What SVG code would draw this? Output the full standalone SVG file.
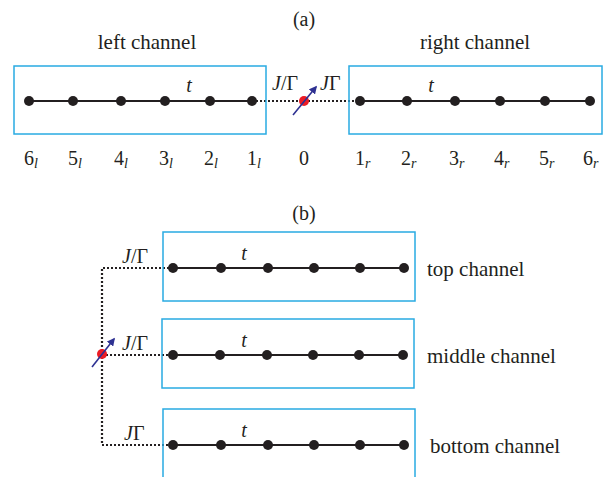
<svg xmlns="http://www.w3.org/2000/svg" width="608" height="477" viewBox="0 0 608 477">
<defs>
<style>
.box{fill:none;stroke:#29abe2;stroke-width:1.5}
.chain{stroke:#231f20;stroke-width:2.2;fill:none}
.dot{stroke:#231f20;stroke-width:2.2;stroke-dasharray:2 2;fill:none}
.node{fill:#231f20}
.imp{fill:#ed1c24}
.spin{stroke:#2e3192;stroke-width:1.6;fill:none}
.lbl{font-family:"Liberation Serif","Times New Roman",serif;font-size:21px;fill:#231f20}
.num{font-family:"Liberation Serif","Times New Roman",serif;font-size:20px;fill:#231f20}
.sub{font-style:italic;font-size:14px}
.it{font-style:italic}
</style>
<marker id="ah" viewBox="0 0 10 10" refX="8" refY="5" markerWidth="5" markerHeight="5" orient="auto" markerUnits="strokeWidth">
<path d="M0,0 L10,5 L0,10 z" fill="#2e3192"/>
</marker>
</defs>
<rect width="608" height="477" fill="#ffffff"/>

<text class="num" x="304" y="26" text-anchor="middle">(a)</text>
<text class="num" x="304" y="220" text-anchor="middle">(b)</text>

<g id="connectors">
<line class="dot" x1="252" y1="101" x2="360" y2="101"/>
<polyline class="dot" points="173,268 102,268 102,445 173,445"/>
<line class="dot" x1="102" y1="355" x2="173" y2="355"/>
</g>

<g id="left-channel">
<rect class="box" x="14" y="66" width="252" height="68"/>
<line class="chain" x1="29" y1="101" x2="252" y2="101"/>
<circle class="node" cx="29" cy="101" r="5"/>
<circle class="node" cx="73" cy="101" r="5"/>
<circle class="node" cx="121" cy="101" r="5"/>
<circle class="node" cx="165" cy="101" r="5"/>
<circle class="node" cx="210" cy="101" r="5"/>
<circle class="node" cx="252" cy="101" r="5"/>
<text class="lbl" x="147" y="49" text-anchor="middle">left channel</text>
<text class="num it" x="189" y="92" text-anchor="middle">t</text>
<text class="num" x="24" y="165">6<tspan class="sub" dy="3">l</tspan></text>
<text class="num" x="68" y="165">5<tspan class="sub" dy="3">l</tspan></text>
<text class="num" x="114" y="165">4<tspan class="sub" dy="3">l</tspan></text>
<text class="num" x="159" y="165">3<tspan class="sub" dy="3">l</tspan></text>
<text class="num" x="204" y="165">2<tspan class="sub" dy="3">l</tspan></text>
<text class="num" x="247" y="165">1<tspan class="sub" dy="3">l</tspan></text>
</g>

<g id="impurity-a">
<circle class="imp" cx="304" cy="101" r="5"/>
<line class="spin" x1="293" y1="115" x2="316" y2="87" marker-end="url(#ah)"/>
<text class="num" x="272" y="90"><tspan class="it">J</tspan>/Γ</text>
<text class="num" x="320" y="90"><tspan class="it">J</tspan>Γ</text>
<text class="num" x="304" y="165" text-anchor="middle">0</text>
</g>

<g id="right-channel">
<rect class="box" x="349" y="66" width="253" height="68"/>
<line class="chain" x1="360" y1="101" x2="590" y2="101"/>
<circle class="node" cx="360" cy="101" r="5"/>
<circle class="node" cx="407" cy="101" r="5"/>
<circle class="node" cx="455" cy="101" r="5"/>
<circle class="node" cx="500" cy="101" r="5"/>
<circle class="node" cx="545" cy="101" r="5"/>
<circle class="node" cx="590" cy="101" r="5"/>
<text class="lbl" x="475" y="49" text-anchor="middle">right channel</text>
<text class="num it" x="431" y="92" text-anchor="middle">t</text>
<text class="num" x="355" y="165">1<tspan class="sub" dy="3">r</tspan></text>
<text class="num" x="401" y="165">2<tspan class="sub" dy="3">r</tspan></text>
<text class="num" x="449" y="165">3<tspan class="sub" dy="3">r</tspan></text>
<text class="num" x="494" y="165">4<tspan class="sub" dy="3">r</tspan></text>
<text class="num" x="539" y="165">5<tspan class="sub" dy="3">r</tspan></text>
<text class="num" x="583" y="165">6<tspan class="sub" dy="3">r</tspan></text>
</g>

<g id="top-channel">
<rect class="box" x="163" y="232" width="252" height="69"/>
<line class="chain" x1="173" y1="268" x2="404" y2="268"/>
<circle class="node" cx="173" cy="268" r="5"/>
<circle class="node" cx="221" cy="268" r="5"/>
<circle class="node" cx="268" cy="268" r="5"/>
<circle class="node" cx="314" cy="268" r="5"/>
<circle class="node" cx="360" cy="268" r="5"/>
<circle class="node" cx="404" cy="268" r="5"/>
<text class="num it" x="244" y="260" text-anchor="middle">t</text>
<text class="num" x="122" y="263"><tspan class="it">J</tspan>/Γ</text>
<text class="lbl" x="427" y="276">top channel</text>
</g>

<g id="middle-channel">
<rect class="box" x="162" y="319" width="252" height="69"/>
<line class="chain" x1="173" y1="355" x2="403" y2="355"/>
<circle class="node" cx="173" cy="355" r="5"/>
<circle class="node" cx="220" cy="355" r="5"/>
<circle class="node" cx="267" cy="355" r="5"/>
<circle class="node" cx="313" cy="355" r="5"/>
<circle class="node" cx="359" cy="355" r="5"/>
<circle class="node" cx="403" cy="355" r="5"/>
<text class="num it" x="244" y="347" text-anchor="middle">t</text>
<text class="num" x="122" y="350"><tspan class="it">J</tspan>/Γ</text>
<text class="lbl" x="427" y="363">middle channel</text>
</g>

<g id="bottom-channel">
<rect class="box" x="163" y="409" width="252" height="80"/>
<line class="chain" x1="173" y1="445" x2="404" y2="445"/>
<circle class="node" cx="173" cy="445" r="5"/>
<circle class="node" cx="221" cy="445" r="5"/>
<circle class="node" cx="268" cy="445" r="5"/>
<circle class="node" cx="314" cy="445" r="5"/>
<circle class="node" cx="360" cy="445" r="5"/>
<circle class="node" cx="404" cy="445" r="5"/>
<text class="num it" x="244" y="437" text-anchor="middle">t</text>
<text class="num" x="124" y="440"><tspan class="it">J</tspan>Γ</text>
<text class="lbl" x="430" y="453">bottom channel</text>
</g>

<g id="impurity-b">
<circle class="imp" cx="102" cy="354" r="5"/>
<line class="spin" x1="92" y1="367" x2="114" y2="339" marker-end="url(#ah)"/>
</g>
</svg>
